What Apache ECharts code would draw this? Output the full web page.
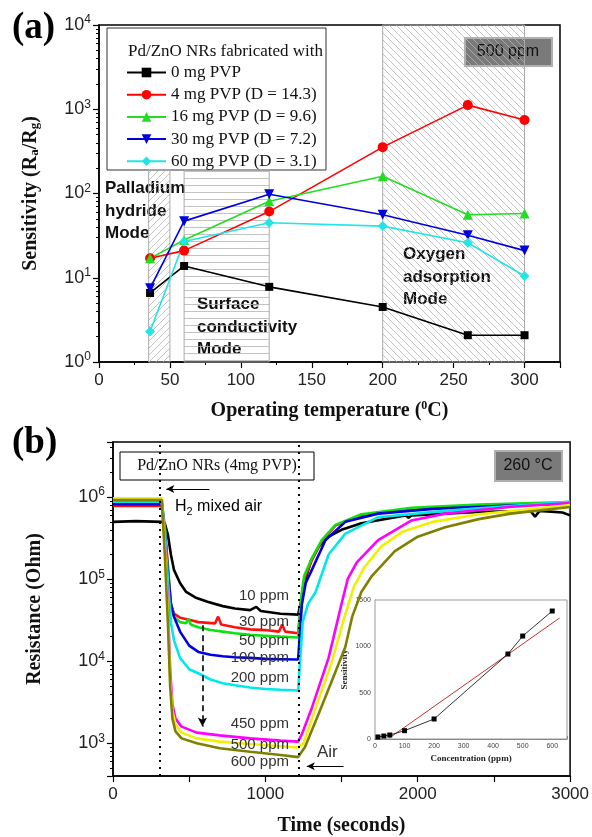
<!DOCTYPE html>
<html>
<head>
<meta charset="utf-8">
<title>Pd/ZnO NRs sensitivity</title>
<script src="https://cdn.jsdelivr.net/npm/echarts@6/dist/echarts.min.js"></script>
<style>
    body{margin:0;background:#fff;}
    #chart{width:592px;height:837px;}
</style>
</head>
<body>
<div id="chart"></div>
<script>
// (a) sensitivity vs operating temperature, 500 ppm
var temps = [36, 60, 120, 200, 260, 300];
var pvp0  = [6.6, 13.8, 7.8, 4.5, 2.08, 2.08];
var pvp4  = [17, 21, 61, 355, 1120, 745];
var pvp16 = [17, 28, 81, 160, 56, 58];
var pvp30 = [7.5, 47, 98, 56, 32, 21];
var pvp60 = [2.3, 27, 45, 41, 26, 10.5];
var legendNames = ['0 mg PVP', '4 mg PVP (D = 14.3)', '16 mg PVP (D = 9.6)', '30 mg PVP (D = 7.2)', '60 mg PVP (D = 3.1)'];

// (b) resistance transients at 260 C, [time s, ohm]
var ppm10 = [[0,5.0e5],[150,5.1e5],[320,5.0e5],[340,4.8e5],[360,3.5e5],[380,2.0e5],[400,1.3e5],[440,9.0e4],[480,7.0e4],[540,6.0e4],[620,5.3e4],[720,4.7e4],[800,4.4e4],[900,4.2e4],[940,4.6e4],[970,4.1e4],[1100,3.8e4],[1215,3.7e4],[1240,6.0e4],[1270,1.1e5],[1300,1.7e5],[1350,2.5e5],[1415,3.3e5],[1500,4.0e5],[1630,4.8e5],[1920,6.0e5],[1940,5.6e5],[1960,6.0e5],[2400,6.6e5],[2740,6.8e5],[2770,5.8e5],[2800,6.8e5],[2950,6.5e5],[3000,6.0e5]];
var ppm30 = [[0,7.8e5],[320,7.8e5],[340,4.0e5],[360,1.5e5],[380,5.0e4],[400,3.8e4],[440,3.4e4],[500,3.2e4],[560,3.0e4],[670,2.9e4],[690,3.5e4],[710,2.8e4],[800,2.6e4],[900,2.45e4],[1000,2.4e4],[1090,2.3e4],[1110,2.8e4],[1130,2.3e4],[1215,2.2e4],[1235,5.5e4],[1255,1.0e5],[1305,1.7e5],[1370,2.9e5],[1460,4.5e5],[1630,6.0e5],[1960,7.2e5],[2400,7.9e5],[3000,8.5e5]];
var ppm50 = [[0,8.8e5],[320,8.8e5],[340,4.5e5],[360,1.3e5],[380,5.0e4],[400,3.5e4],[440,3.0e4],[480,2.9e4],[495,3.3e4],[510,2.8e4],[560,2.6e4],[640,2.4e4],[720,2.3e4],[800,2.2e4],[900,2.1e4],[1000,2.05e4],[1100,2.0e4],[1215,1.95e4],[1235,6.0e4],[1255,1.1e5],[1305,1.8e5],[1370,3.0e5],[1460,4.6e5],[1630,6.2e5],[1960,7.4e5],[2400,8.1e5],[3000,8.7e5]];
var ppm100 = [[0,8.2e5],[320,8.2e5],[340,4.0e5],[360,1.2e5],[380,5.0e4],[400,3.5e4],[440,2.3e4],[500,1.55e4],[560,1.3e4],[640,1.2e4],[720,1.15e4],[800,1.12e4],[900,1.1e4],[1000,1.07e4],[1100,1.06e4],[1215,1.05e4],[1240,5.0e4],[1265,9.0e4],[1305,1.3e5],[1395,3.0e5],[1525,5.0e5],[1740,6.3e5],[2100,7.2e5],[2600,7.9e5],[3000,8.3e5]];
var ppm200 = [[0,8.8e5],[320,8.8e5],[340,4.0e5],[360,1.0e5],[380,3.0e4],[400,1.8e4],[440,1.1e4],[500,8.0e3],[570,7.0e3],[640,6.0e3],[720,5.4e3],[800,5.1e3],[900,4.8e3],[1000,4.6e3],[1100,4.5e3],[1215,4.4e3],[1245,3.0e4],[1280,5.0e4],[1330,7.0e4],[1415,2.0e5],[1525,3.6e5],[1740,5.7e5],[2180,6.8e5],[2600,7.8e5],[3000,8.8e5]];
var ppm450 = [[0,9.5e5],[320,9.5e5],[340,3.0e5],[360,5.0e4],[375,8.0e3],[390,3.0e3],[410,2.0e3],[450,1.6e3],[550,1.35e3],[700,1.25e3],[900,1.15e3],[1100,1.08e3],[1215,1.05e3],[1240,1.3e3],[1305,2.7e3],[1415,1.1e4],[1500,5.0e4],[1540,1.0e5],[1600,1.6e5],[1740,3.0e5],[1960,5.2e5],[2180,6.3e5],[2600,7.6e5],[3000,8.5e5]];
var ppm500 = [[0,9.7e5],[320,9.7e5],[340,2.5e5],[360,4.0e4],[375,6.0e3],[390,2.5e3],[410,1.7e3],[450,1.35e3],[550,1.15e3],[700,1.05e3],[900,980],[1100,920],[1215,890],[1250,1.0e3],[1320,2.4e3],[1430,9.0e3],[1520,3.5e4],[1580,8.0e4],[1650,1.4e5],[1760,2.5e5],[1900,3.8e5],[2100,5.0e5],[2400,6.2e5],[2700,7.0e5],[3000,8.0e5]];
var ppm600 = [[0,9.2e5],[320,9.2e5],[340,2.0e5],[360,3.0e4],[375,5.0e3],[390,2.0e3],[410,1.4e3],[450,1.15e3],[550,1.0e3],[700,870],[900,790],[1100,720],[1215,680],[1260,900],[1350,2.3e3],[1440,6.0e3],[1525,1.5e4],[1570,3.5e4],[1630,7.0e4],[1700,1.1e5],[1850,2.2e5],[2000,3.3e5],[2180,4.3e5],[2400,5.4e5],[2610,6.3e5],[3000,7.6e5]];
var ppmLabels = ['10 ppm', '30 ppm', '50 ppm', '100 ppm', '200 ppm', '450 ppm', '500 ppm', '600 ppm'];
var ppmLabelY = [596, 622, 641, 658, 678, 724, 745, 762];

// inset: sensitivity vs concentration
var conc = [10, 30, 50, 100, 200, 450, 500, 600];
var sens = [22, 32, 43, 90, 216, 917, 1111, 1381];
var fitLine = [[48, 10], [625, 1306]];

var serif = 'Liberation Serif';
var sans = 'Liberation Sans';

function hatch(kind) {
    var c = document.createElement('canvas');
    c.width = 7; c.height = 7;
    var g = c.getContext('2d');
    g.strokeStyle = '#b4b4b4';
    g.lineWidth = 0.8;
    g.beginPath();
    if (kind === 'h') {
        g.moveTo(0, 3.5); g.lineTo(7, 3.5);
    } else if (kind === '/') {
        g.moveTo(-1, 8); g.lineTo(8, -1);
    } else {
        g.moveTo(-1, -1); g.lineTo(8, 8);
    }
    g.stroke();
    return {image: c, repeat: 'repeat'};
}

function pow10(v) {
    var e = Math.log10(v);
    var r = Math.round(e);
    if (Math.abs(e - r) > 1e-6) return '';
    return '{b|10}{s|' + r + '}';
}
var powRich = {
    b: {fontFamily: sans, fontSize: 18, color: '#222'},
    s: {fontFamily: sans, fontSize: 12, color: '#222', verticalAlign: 'top', padding: [0, 0, 10, 0]}
};

var chart = echarts.init(document.getElementById('chart'));

var topColors = ['#000000', '#ff0000', '#22dd22', '#0000dd', '#22e5e5'];
var topSymbols = ['rect', 'circle', 'triangle', 'triangle', 'diamond'];
var topData = [pvp0, pvp4, pvp16, pvp30, pvp60];
var series = [];
for (let i = 0; i < 5; i++) {
    let s = {
        name: legendNames[i],
        type: 'line',
        xAxisIndex: 0, yAxisIndex: 0,
        data: temps.map((t, j) => [t, topData[i][j]]),
        symbol: topSymbols[i],
        symbolSize: i === 0 ? 8 : 10,
        symbolRotate: i === 3 ? 180 : 0,
        color: topColors[i],
        lineStyle: {width: 1.6, color: topColors[i]},
        z: 5
    };
    if (i === 0) {
        s.markArea = {
            silent: true,
            z: 1,
            data: [
                [{xAxis: 35, yAxis: 1, itemStyle: {color: hatch('/'), borderColor: '#aaa', borderWidth: 1}}, {xAxis: 50, yAxis: 190}],
                [{xAxis: 60, yAxis: 1, itemStyle: {color: hatch('h'), borderColor: '#aaa', borderWidth: 1}}, {xAxis: 120, yAxis: 190}],
                [{xAxis: 200, yAxis: 1, itemStyle: {color: hatch('\\'), borderColor: '#aaa', borderWidth: 1}}, {xAxis: 300, yAxis: 10000}]
            ]
        };
    }
    series.push(s);
}

var botColors = ['#000000', '#ff1010', '#10e010', '#0000e0', '#00e8e8', '#ff00ff', '#f0f000', '#808000'];
var botData = [ppm10, ppm30, ppm50, ppm100, ppm200, ppm450, ppm500, ppm600];
for (let i = 0; i < 8; i++) {
    let s = {
        name: ppmLabels[i],
        type: 'line',
        xAxisIndex: 1, yAxisIndex: 1,
        data: botData[i],
        showSymbol: false,
        color: botColors[i],
        lineStyle: {width: 2.6, color: botColors[i]},
        z: 3
    };
    if (i === 0) {
        s.markLine = {
            silent: true, symbol: 'none', label: {show: false},
            lineStyle: {color: '#000', type: [2, 5], width: 2},
            data: [{xAxis: 305}, {xAxis: 1220}]
        };
    }
    if (i === 1) {
        s.markLine = {
            silent: true, symbol: ['none', 'arrow'], symbolSize: [7, 9], label: {show: false},
            lineStyle: {color: '#000', type: [6, 4], width: 1.6},
            data: [[{coord: [587, 2.75e4]}, {coord: [587, 1.6e3]}]]
        };
    }
    if (i === 2) {
        s.markLine = {
            silent: true, symbol: ['none', 'arrow'], symbolSize: [6, 8], label: {show: false},
            lineStyle: {color: '#000', type: 'solid', width: 1.2},
            data: [
                [{coord: [633, 1.26e6]}, {coord: [350, 1.26e6]}],
                [{coord: [1513, 525]}, {coord: [1272, 525]}]
            ]
        };
    }
    series.push(s);
}

series.push({
    type: 'line', xAxisIndex: 2, yAxisIndex: 2,
    data: fitLine, showSymbol: false,
    lineStyle: {color: '#c03030', width: 1}, color: '#c03030', z: 6
});
series.push({
    type: 'line', xAxisIndex: 2, yAxisIndex: 2,
    data: conc.map((c, i) => [c, sens[i]]),
    symbol: 'rect', symbolSize: 5, color: '#000',
    lineStyle: {color: '#000', width: 0.8}, z: 7
});

var axisBlack = {lineStyle: {color: '#000', width: 1.5}};

var option = {
    animation: false,
    backgroundColor: '#fff',
    grid: [
        {left: 99, top: 25, width: 461, height: 337, show: true, borderColor: '#000', borderWidth: 1.5},
        {left: 113, top: 442, width: 459, height: 334, show: true, borderColor: '#000', borderWidth: 1.5},
        {left: 375, top: 600, width: 192, height: 139, show: true, borderColor: '#999', borderWidth: 1, backgroundColor: '#fff', z: 4}
    ],
    legend: {
        data: legendNames,
        orient: 'vertical',
        left: 126, top: 64, padding: 0,
        itemWidth: 39, itemHeight: 12, itemGap: 5.2,
        textStyle: {fontFamily: serif, fontSize: 17, color: '#111'},
        z: 10
    },
    xAxis: [
        {
            type: 'value', gridIndex: 0, min: 0, max: 325, interval: 50,
            axisLine: axisBlack,
            axisTick: {length: 6, lineStyle: {color: '#000', width: 1.2}},
            minorTick: {show: true, splitNumber: 2, length: 3, lineStyle: {color: '#000'}},
            splitLine: {show: false},
            axisLabel: {fontFamily: sans, fontSize: 17, color: '#222', margin: 10, showMaxLabel: false},
            name: 'Operating temperature ({sup|0}C)',
            nameLocation: 'middle', nameGap: 38,
            nameTextStyle: {fontFamily: serif, fontWeight: 'bold', fontSize: 20, color: '#111',
                rich: {sup: {fontFamily: serif, fontWeight: 'bold', fontSize: 12, verticalAlign: 'top', padding: [0, 0, 10, 0]}}}
        },
        {
            type: 'value', gridIndex: 1, min: 0, max: 3000, interval: 500,
            axisLine: axisBlack,
            axisTick: {length: 6, lineStyle: {color: '#000', width: 1.2}},
            splitLine: {show: false},
            axisLabel: {fontFamily: sans, fontSize: 17, color: '#222', margin: 10,
                formatter: v => (v % 1000 === 0 ? String(v) : '')},
            name: 'Time (seconds)',
            nameLocation: 'middle', nameGap: 40,
            nameTextStyle: {fontFamily: serif, fontWeight: 'bold', fontSize: 20, color: '#111'}
        },
        {
            type: 'value', gridIndex: 2, min: 0, max: 650, interval: 100,
            axisLine: {lineStyle: {color: '#777', width: 1}},
            axisTick: {inside: true, length: 3, lineStyle: {color: '#777'}},
            minorTick: {show: true, splitNumber: 2, length: 2, lineStyle: {color: '#777'}},
            splitLine: {show: false},
            axisLabel: {fontFamily: sans, fontSize: 7, color: '#444', margin: 4, showMaxLabel: false},
            name: 'Concentration (ppm)',
            nameLocation: 'middle', nameGap: 15,
            nameTextStyle: {fontFamily: serif, fontWeight: 'bold', fontSize: 9, color: '#222'}
        }
    ],
    yAxis: [
        {
            type: 'log', logBase: 10, gridIndex: 0, min: 1, max: 10000,
            axisLine: axisBlack,
            axisTick: {length: 6, lineStyle: {color: '#000', width: 1.2}},
            minorTick: {show: true, splitNumber: 9, length: 3, lineStyle: {color: '#000'}},
            splitLine: {show: false},
            axisLabel: {formatter: pow10, rich: powRich, margin: 8},
            name: 'Sensitivity (R{sub|a}/R{sub|g})',
            nameLocation: 'middle', nameGap: 58,
            nameTextStyle: {fontFamily: serif, fontWeight: 'bold', fontSize: 20, color: '#111',
                rich: {sub: {fontFamily: serif, fontWeight: 'bold', fontSize: 13, verticalAlign: 'bottom', padding: [8, 0, 0, 0]}}}
        },
        {
            type: 'log', logBase: 10, gridIndex: 1, min: 400, max: 4.7e6,
            axisLine: axisBlack,
            axisTick: {length: 6, lineStyle: {color: '#000', width: 1.2}},
            minorTick: {show: true, splitNumber: 9, length: 3, lineStyle: {color: '#000'}},
            splitLine: {show: false},
            axisLabel: {formatter: pow10, rich: powRich, margin: 8, showMinLabel: false, showMaxLabel: false},
            name: 'Resistance (Ohm)',
            nameLocation: 'middle', nameGap: 68,
            nameTextStyle: {fontFamily: serif, fontWeight: 'bold', fontSize: 20, color: '#111'}
        },
        {
            type: 'value', gridIndex: 2, min: 0, max: 1500, interval: 500,
            axisLine: {lineStyle: {color: '#777', width: 1}},
            axisTick: {inside: true, length: 3, lineStyle: {color: '#777'}},
            splitLine: {show: false},
            axisLabel: {fontFamily: sans, fontSize: 7, color: '#444', margin: 4, formatter: v => String(v)},
            name: 'Sensitivity',
            nameLocation: 'middle', nameGap: 26,
            nameTextStyle: {fontFamily: serif, fontWeight: 'bold', fontSize: 9, color: '#222'}
        }
    ],
    graphic: [
        {type: 'text', x: 12, y: 28, style: {text: '(a)', font: 'bold 37px ' + serif, fill: '#000', textVerticalAlign: 'middle'}},
        {type: 'text', x: 12, y: 443, style: {text: '(b)', font: 'bold 37px ' + serif, fill: '#000', textVerticalAlign: 'middle'}},
        {type: 'rect', shape: {x: 107, y: 28, width: 219, height: 142}, style: {fill: 'none', stroke: '#333', lineWidth: 1}},
        {type: 'text', x: 128, y: 52, style: {text: 'Pd/ZnO NRs fabricated with', font: '17px ' + serif, fill: '#111', textVerticalAlign: 'middle'}},
        {type: 'rect', shape: {x: 465, y: 38, width: 87, height: 28}, style: {fill: '#7a7a7a', stroke: '#b0b0b0', lineWidth: 2}},
        {type: 'text', x: 508, y: 52, style: {text: '500 ppm', font: '16px ' + sans, fill: '#111', textAlign: 'center', textVerticalAlign: 'middle'}},
        {type: 'text', x: 105, y: 211, style: {text: 'Palladium\nhydride\nMode', font: 'bold 17px ' + sans, lineHeight: 22.5, fill: '#111', textVerticalAlign: 'middle'}},
        {type: 'text', x: 197, y: 327, style: {text: 'Surface\nconductivity\nMode', font: 'bold 17px ' + sans, lineHeight: 22.5, fill: '#111', textVerticalAlign: 'middle'}},
        {type: 'text', x: 403, y: 277, style: {text: 'Oxygen\nadsorption\nMode', font: 'bold 17px ' + sans, lineHeight: 22.5, fill: '#111', textVerticalAlign: 'middle'}},
        {type: 'rect', shape: {x: 120, y: 452, width: 194, height: 28}, style: {fill: '#fff', stroke: '#000', lineWidth: 1}},
        {type: 'text', x: 217, y: 466, style: {text: 'Pd/ZnO NRs (4mg PVP)', font: '16px ' + serif, fill: '#111', textAlign: 'center', textVerticalAlign: 'middle'}},
        {type: 'rect', shape: {x: 495, y: 451, width: 67, height: 30}, style: {fill: '#7a7a7a', stroke: '#b0b0b0', lineWidth: 2}},
        {type: 'text', x: 528, y: 466, style: {text: '260 \u00b0C', font: '16px ' + sans, fill: '#111', textAlign: 'center', textVerticalAlign: 'middle'}},
        {type: 'text', x: 175, y: 507, style: {text: '{a|H}{b|2}{a| mixed air}', textVerticalAlign: 'middle',
            rich: {a: {fontFamily: sans, fontSize: 16, color: '#333'}, b: {fontFamily: sans, fontSize: 11, color: '#333', verticalAlign: 'bottom', padding: [10, 0, 0, 0]}}}},
        {type: 'text', x: 317, y: 752, style: {text: 'Air', font: '17px ' + sans, fill: '#333', textVerticalAlign: 'middle'}}
    ].concat(ppmLabels.map((t, i) => ({
        type: 'text', x: 289, y: ppmLabelY[i], z: 20,
        style: {text: t, font: '15px ' + sans, fill: '#333', textAlign: 'right', textVerticalAlign: 'middle'}
    }))),
    series: series
};
chart.setOption(option);
</script>
</body>
</html>
